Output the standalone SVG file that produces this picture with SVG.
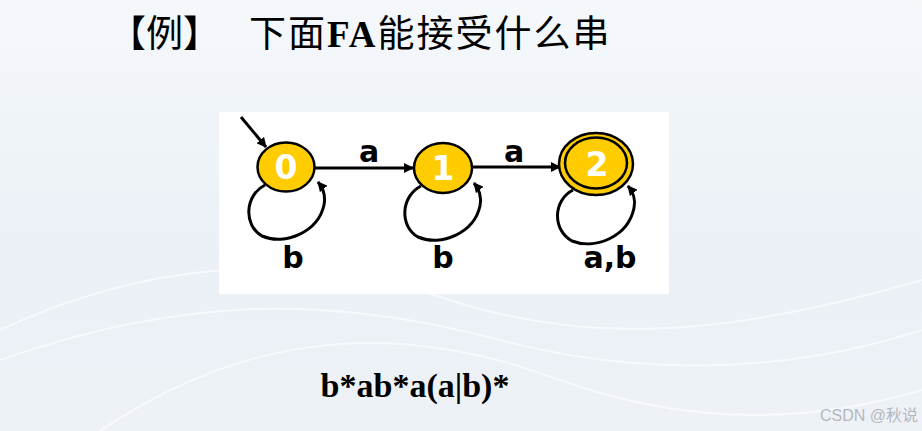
<svg xmlns="http://www.w3.org/2000/svg" width="922" height="431" viewBox="0 0 922 431">
<defs>
<linearGradient id="bg" x1="0" y1="0" x2="0" y2="1">
<stop offset="0" stop-color="#f5f8fb"/>
<stop offset="0.6" stop-color="#eaf0f6"/>
<stop offset="1" stop-color="#eef2f7"/>
</linearGradient>
<marker id="ah" viewBox="0 0 10 10" refX="9" refY="5" markerWidth="10" markerHeight="10" markerUnits="userSpaceOnUse" orient="auto">
<path d="M0,0 L10,5 L0,10 z" fill="#000"/>
</marker>
<style>
.st{fill:#ffcc00;stroke:#000;stroke-width:2.5}
.num{font-family:"DejaVu Sans",Verdana,sans-serif;font-weight:bold;font-size:33px;fill:#fff;text-anchor:middle}
.lbl{font-family:"DejaVu Sans",Verdana,sans-serif;font-weight:bold;font-size:30px;fill:#000;text-anchor:middle}
.ed{fill:none;stroke:#000;stroke-width:3;marker-end:url(#ah)}
.title{font-family:"Liberation Serif","Noto Sans CJK SC",serif;font-size:37px;fill:#000}
</style>
</defs>
<rect width="922" height="431" fill="url(#bg)"/>
<g fill="none" stroke="#ffffff" stroke-opacity="0.6" stroke-width="2">
<path d="M0,330 C150,260 300,250 450,300 C600,350 750,330 922,280"/>
<path d="M0,360 C200,290 350,300 500,340 C650,380 800,370 922,330"/>
<path d="M100,431 C250,330 400,320 560,380 C700,430 820,420 922,390"/>
</g>
<text class="title" x="109" y="47"><tspan>【例】</tspan><tspan x="249" letter-spacing="2">下面</tspan><tspan font-weight="bold" letter-spacing="2">FA</tspan><tspan letter-spacing="2">能接受什么串</tspan></text>
<rect x="219" y="112" width="450" height="182" fill="#ffffff"/>
<g id="connectors">
<path class="ed" d="M241,117 L266,147"/>
<path class="ed" d="M315,168 L413,168"/>
<path class="ed" d="M472,167 L560,167"/>
<path class="ed" d="M265,185 C245,195 243,225 262,236 C285,246 318,232 324,205 C326,195 323,188 318,182"/>
<path class="ed" d="M421,186 C401,196 399,226 418,237 C441,247 474,233 480,206 C482,196 479,189 474,183"/>
<path class="ed" d="M573,190 C553,200 552,230 572,241 C595,250 628,237 634,208 C636,198 633,192 628,186"/>
</g>
<g id="s0">
<ellipse class="st" cx="286" cy="167" rx="28.5" ry="24.5"/>
<text class="num" x="286" y="179">0</text>
</g>
<g id="s1">
<ellipse class="st" cx="443" cy="168" rx="29" ry="25"/>
<text class="num" x="443" y="180">1</text>
</g>
<g id="s2">
<ellipse class="st" cx="596" cy="164" rx="37" ry="31"/>
<ellipse fill="none" stroke="#000" stroke-width="2.5" cx="596" cy="163" rx="31" ry="25.5"/>
<text class="num" x="597" y="176">2</text>
</g>
<g id="labels">
<text class="lbl" x="369" y="162">a</text>
<text class="lbl" x="514" y="162">a</text>
<text class="lbl" x="293" y="268">b</text>
<text class="lbl" x="443" y="268">b</text>
<text class="lbl" x="610" y="268">a,b</text>
</g>
<text x="415" y="397" font-family="Liberation Serif,serif" font-weight="bold" font-size="34" text-anchor="middle" fill="#000">b*ab*a(a|b)*</text>
<text x="918" y="421" font-family="Liberation Sans,'Noto Sans CJK SC',sans-serif" font-size="16" text-anchor="end" fill="#b4b8bd">CSDN @秋说</text>
</svg>
